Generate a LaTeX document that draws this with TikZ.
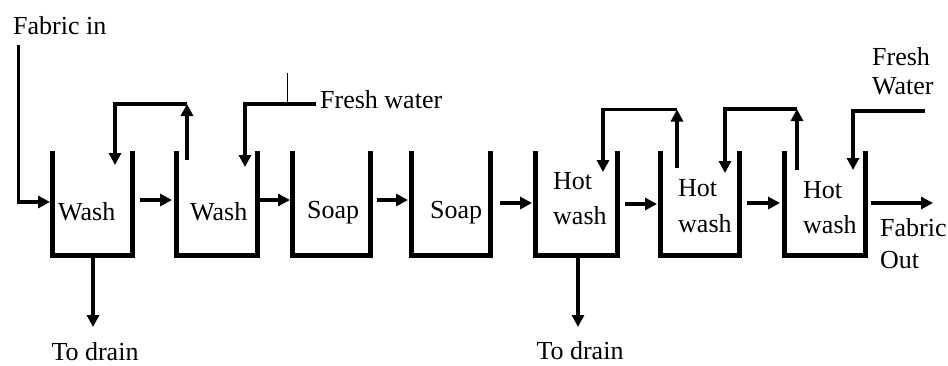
\documentclass[tikz,border=0pt]{standalone}
\usepackage{fontspec}
\setmainfont{Liberation Serif}
\usetikzlibrary{arrows.meta}
\begin{document}
\begin{tikzpicture}[x=1pt,y=-1pt,
  tankwall/.style={line width=5pt, line join=miter},
  flow/.style={line width=3.5pt, -{Triangle[length=12pt,width=12pt]}},
  pipe/.style={line width=3.5pt},
  thinline/.style={line width=1pt},
  lbl/.style={font=\fontsize{26}{30}\selectfont, inner sep=0pt, anchor=base west},
  lblc/.style={lbl, anchor=base},
]
\useasboundingbox (0,0) rectangle (948,365);

% --- tanks (open-topped U shapes) ---
\foreach \l/\r in {52.5/132.5, 176/257, 292.5/370.5, 411.5/490.5,
                   535.5/617.5, 660.5/739.5, 784.5/865.5}
  \draw[tankwall] (\l,151) -- (\l,255.5) -- (\r,255.5) -- (\r,151);

% --- tank labels ---
\node[lbl] (w1)  at (58,220)  {Wash};
\node[lbl] (w2)  at (190,220) {Wash};
\node[lbl] (s3)  at (307,218) {Soap};
\node[lbl] (s4)  at (430,218) {Soap};
\node[lbl] (h5a) at (553,189) {Hot};
\node[lbl] (h5b) at (553,224) {wash};
\node[lbl] (h6a) at (678,196) {Hot};
\node[lbl] (h6b) at (678,232) {wash};
\node[lbl] (h7a) at (803,198) {Hot};
\node[lbl] (h7b) at (803,233) {wash};

% --- other labels ---
\node[lbl] (fabin) at (13,34)   {Fabric in};
\node[lbl] (fw1)   at (320,108) {Fresh water};
\node[lbl] (fw2a)  at (872,65)  {Fresh};
\node[lbl] (fw2b)  at (872,94)  {Water};
\node[lbl] (foa)   at (880,236) {Fabric};
\node[lbl] (fob)   at (880,268) {Out};
\node[lblc] (dr1)  at (95,360)  {To drain};
\node[lblc] (dr2)  at (580,359) {To drain};

% --- ports ---
\coordinate (in-top)  at (18.5,45);
\coordinate (in-bend) at (18.5,202);
\coordinate (t1-in)   at (50,202);
\coordinate (t1-out)  at (140,200);
\coordinate (t2-in)   at (172,200);
\coordinate (t2-out)  at (259.5,200);
\coordinate (t3-in)   at (290,200);
\coordinate (t3-out)  at (377,200);
\coordinate (t4-in)   at (408,200);
\coordinate (t4-out)  at (500,203);
\coordinate (t5-in)   at (532,203);
\coordinate (t5-out)  at (625,204);
\coordinate (t6-in)   at (657,204);
\coordinate (t6-out)  at (747,203);
\coordinate (t7-in)   at (780,203);
\coordinate (t7-out)  at (871,203);
\coordinate (fab-out) at (933,203);

\coordinate (t1-drain) at (93,258);
\coordinate (drain1)   at (93,327);
\coordinate (t5-drain) at (578,258);
\coordinate (drain2)   at (578,327);

% counter-current return, tank 2 -> tank 1
\coordinate (ra-rise) at (187,160);
\coordinate (ra-top)  at (187,104);
\coordinate (ra-left) at (115,104);
\coordinate (ra-drop) at (115,165);
% fresh water feed to tank 2
\coordinate (fa-src)  at (316,104);
\coordinate (fa-bend) at (245,104);
\coordinate (fa-drop) at (245,167);
\coordinate (fa-tick) at (287,73);
\coordinate (fa-tickb) at (287,104);
% return, tank 6 -> tank 5
\coordinate (rb-rise) at (677,168);
\coordinate (rb-top)  at (677,109.5);
\coordinate (rb-left) at (603,109.5);
\coordinate (rb-drop) at (603,172);
% return, tank 7 -> tank 6
\coordinate (rc-rise) at (797,170);
\coordinate (rc-top)  at (797,109);
\coordinate (rc-left) at (725,109);
\coordinate (rc-drop) at (725,173);
% fresh water feed to tank 7
\coordinate (fb-src)  at (925,111);
\coordinate (fb-bend) at (853,111);
\coordinate (fb-drop) at (853,170);

% --- fabric path ---
\draw[flow] (in-top) -- (in-bend) -- (t1-in);
\draw[flow] (t1-out) -- (t2-in);
\draw[flow] (t2-out) -- (t3-in);
\draw[flow] (t3-out) -- (t4-in);
\draw[flow] (t4-out) -- (t5-in);
\draw[flow] (t5-out) -- (t6-in);
\draw[flow] (t6-out) -- (t7-in);
\draw[flow] (t7-out) -- (fab-out);

% --- drains ---
\draw[flow] (t1-drain) -- (drain1);
\draw[flow] (t5-drain) -- (drain2);

% --- water returns and feeds ---
\draw[flow] (ra-rise) -- (ra-top);
\draw[flow] (ra-top) -- (ra-left) -- (ra-drop);
\draw[flow] (fa-src) -- (fa-bend) -- (fa-drop);
\draw[thinline] (fa-tick) -- (fa-tickb);
\draw[flow] (rb-rise) -- (rb-top);
\draw[flow] (rb-top) -- (rb-left) -- (rb-drop);
\draw[flow] (rc-rise) -- (rc-top);
\draw[flow] (rc-top) -- (rc-left) -- (rc-drop);
\draw[flow] (fb-src) -- (fb-bend) -- (fb-drop);
\end{tikzpicture}
\end{document}
